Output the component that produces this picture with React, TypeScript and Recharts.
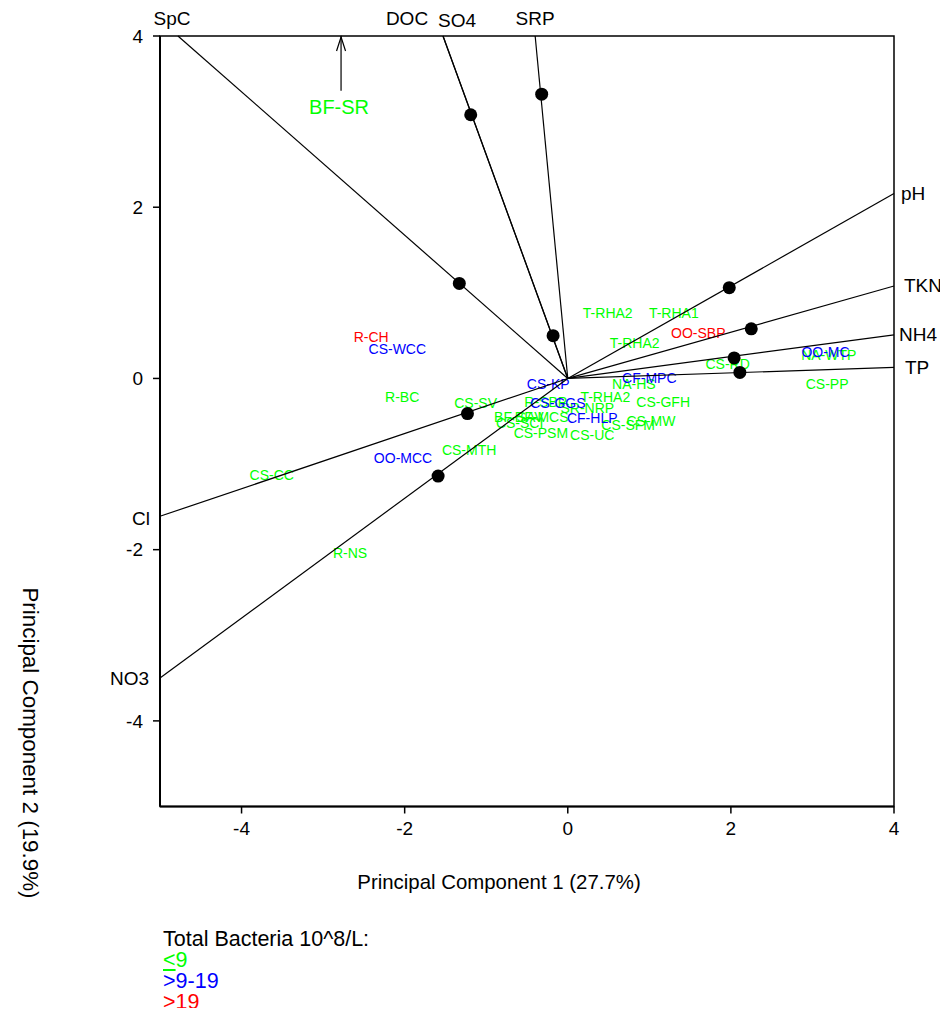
import React from 'react';
import { ComposedChart, Scatter, XAxis, YAxis, ReferenceArea, ReferenceDot } from 'recharts';

// ---- Data ----
const vectorNames = ['SpC', 'DOC', 'SO4', 'SRP', 'pH', 'TKN', 'NH4', 'TP', 'Cl', 'NO3'];
const vectorEndX = [-4.78, -1.53, -1.53, -0.4, 4, 4, 4, 4, -5, -5];
const vectorEndY = [4, 4, 4, 4, 2.16, 1.08, 0.51, 0.13, -1.61, -3.5];
const loadingX = [-1.33, -1.19, -0.18, -0.32, 1.98, 2.25, 2.04, 2.11, -1.23, -1.59];
const loadingY = [1.11, 3.08, 0.5, 3.32, 1.06, 0.58, 0.24, 0.07, -0.41, -1.14];

const siteNames = [
  'R-CH', 'CS-WCC', 'R-BC', 'CS-CC', 'OO-MCC', 'R-NS', 'CS-SV', 'CS-MTH', 'CS-KP', 'R-SBP',
  'CS-GGS', 'T-RHA2', 'SR-NRP', 'CF-HLP', 'CS-GFH', 'CS-MW', 'CS-SFM', 'CS-UC', 'CS-PSM', 'CS-SCI',
  'BF-SAV', 'BF-MCS', 'NA-HS', 'CF-MPC', 'T-RHA2', 'T-RHA1', 'T-RHA2', 'OO-SBP', 'CS-RD', 'NA-WTP',
  'OO-MC', 'CS-PP',
];
const siteX = [
  -2.41, -2.09, -2.03, -3.63, -2.02, -2.67, -1.13, -1.21, -0.24, -0.27,
  -0.12, 0.46, 0.24, 0.3, 1.17, 1.02, 0.74, 0.3, -0.33, -0.59,
  -0.6, -0.32, 0.81, 1.0, 0.49, 1.3, 0.82, 1.6, 1.96, 3.2,
  3.16, 3.18,
];
const siteY = [
  0.48, 0.34, -0.22, -1.13, -0.93, -2.04, -0.29, -0.84, -0.06, -0.28,
  -0.29, -0.22, -0.34, -0.46, -0.28, -0.5, -0.54, -0.66, -0.64, -0.52,
  -0.45, -0.45, -0.06, 0.0, 0.76, 0.76, 0.41, 0.53, 0.17, 0.27,
  0.31, -0.07,
];
// 0: <=9, 1: >9-19, 2: >19
const siteGroup = [
  2, 1, 0, 0, 1, 0, 0, 0, 1, 0,
  1, 0, 0, 1, 0, 0, 0, 0, 0, 0,
  0, 0, 0, 1, 0, 0, 0, 2, 0, 0,
  1, 0,
];

// Site beyond the top of the plot, shown with an arrow
const offscaleSiteName = 'BF-SR';
const offscaleSiteGroup = 0;
const offscaleArrowX = -2.78;
const offscaleArrowBaseY = 3.36;

const legendTitle = 'Total Bacteria 10^8/L:';
const groupLabels = ['9', '>9-19', '>19'];
const xTicks = [-4, -2, 0, 2, 4];
const yTicks = [-4, -2, 0, 2, 4];
const xTitle = 'Principal Component 1 (27.7%)';
const yTitle = 'Principal Component 2 (19.9%)';

// ---- Styles / layout ----
const FONT = '"Liberation Sans", Arial, Helvetica, sans-serif';
const groupColors = ['#00ff00', '#0000ff', '#ff0000'];
const vectorLabelLayout: Record<string, { dx: number; dy: number; anchor: 'start' | 'middle' | 'end' }> = {
  SpC: { dx: -6, dy: -18, anchor: 'middle' },
  DOC: { dx: -36, dy: -18, anchor: 'middle' },
  SO4: { dx: 14, dy: -16, anchor: 'middle' },
  SRP: { dx: 0, dy: -18, anchor: 'middle' },
  pH: { dx: 7, dy: 0, anchor: 'start' },
  TKN: { dx: 10, dy: 0, anchor: 'start' },
  NH4: { dx: 5, dy: 0, anchor: 'start' },
  TP: { dx: 11, dy: 0, anchor: 'start' },
  Cl: { dx: -10, dy: 2, anchor: 'end' },
  NO3: { dx: -11, dy: 0, anchor: 'end' },
};

const sites = siteNames.map((name, i) => ({ name, x: siteX[i], y: siteY[i], g: siteGroup[i] }));
const vectors = vectorNames.map((name, i) => ({
  name,
  line: [{ x: 0, y: 0 }, { x: vectorEndX[i], y: vectorEndY[i] }],
}));
const loadings = loadingX.map((x, i) => ({ x, y: loadingY[i] }));
const arrowData = [{ x: offscaleArrowX, y: offscaleArrowBaseY }, { x: offscaleArrowX, y: 4 }];

const Empty = () => <g />;

export default function App() {
  return (
    <div style={{ position: 'relative', width: 940, height: 1000, fontFamily: FONT }}>
      <ComposedChart
        width={940}
        height={1000}
        margin={{ top: 28, right: 54, bottom: 161.5, left: 92 }}
        style={{ fontFamily: FONT }}
      >
        <XAxis
          type="number"
          dataKey="x"
          domain={[-5, 4]}
          ticks={xTicks}
          height={40}
          tickSize={7}
          tickMargin={8}
          axisLine={{ stroke: '#000', strokeWidth: 2 }}
          tickLine={{ stroke: '#000', strokeWidth: 1.5 }}
          tick={{ fill: '#000', fontSize: 19, fontFamily: FONT }}
        />
        <YAxis
          type="number"
          dataKey="y"
          domain={[-5, 4]}
          ticks={yTicks}
          width={60}
          tickSize={7}
          tickMargin={10}
          axisLine={{ stroke: '#000', strokeWidth: 2 }}
          tickLine={{ stroke: '#000', strokeWidth: 1.5 }}
          tick={{ fill: '#000', fontSize: 19, fontFamily: FONT }}
        />
        <ReferenceArea x1={-5} x2={4} y1={-5} y2={4} stroke="#000" strokeWidth={1.5} fill="none" fillOpacity={0} />

        {[0, 1, 2].map((g) => (
          <Scatter
            key={'sites' + g}
            data={sites.filter((s) => s.g === g)}
            isAnimationActive={false}
            shape={(p: any) => (
              <text
                x={p.cx}
                y={p.cy}
                fill={groupColors[g]}
                fontSize={14}
                fontFamily={FONT}
                textAnchor="middle"
                dominantBaseline="central"
              >
                {p.payload.name}
              </text>
            )}
          />
        ))}

        {vectors.map((v) => (
          <Scatter
            key={'vec' + v.name}
            data={v.line}
            isAnimationActive={false}
            line={{ stroke: '#000', strokeWidth: 1.2 }}
            shape={Empty}
          />
        ))}

        <Scatter
          data={arrowData}
          isAnimationActive={false}
          line={{ stroke: '#000', strokeWidth: 1.2 }}
          shape={Empty}
        />
        <ReferenceDot
          x={offscaleArrowX}
          y={4}
          ifOverflow="visible"
          shape={(p: any) => (
            <path
              d={`M${p.cx - 4.5},${p.cy + 15} L${p.cx},${p.cy + 1} L${p.cx + 4.5},${p.cy + 15}`}
              stroke="#000"
              strokeWidth={1.2}
              fill="none"
            />
          )}
        />
        <ReferenceDot
          x={offscaleArrowX}
          y={offscaleArrowBaseY}
          ifOverflow="visible"
          shape={(p: any) => (
            <text
              x={p.cx - 2}
              y={p.cy + 16}
              fill={groupColors[offscaleSiteGroup]}
              fontSize={20}
              fontFamily={FONT}
              textAnchor="middle"
              dominantBaseline="central"
            >
              {offscaleSiteName}
            </text>
          )}
        />

        <Scatter
          data={loadings}
          isAnimationActive={false}
          shape={(p: any) => <circle cx={p.cx} cy={p.cy} r={6.5} fill="#000" />}
        />

        {vectors.map((v, i) => {
          const lay = vectorLabelLayout[v.name];
          return (
            <ReferenceDot
              key={'lab' + v.name + i}
              x={vectorEndX[i]}
              y={vectorEndY[i]}
              ifOverflow="visible"
              shape={(p: any) => (
                <text
                  x={p.cx + lay.dx}
                  y={p.cy + lay.dy}
                  fill="#000"
                  fontSize={19}
                  fontFamily={FONT}
                  textAnchor={lay.anchor}
                  dominantBaseline="central"
                >
                  {v.name}
                </text>
              )}
            />
          );
        })}
      </ComposedChart>

      <div
        style={{
          position: 'absolute',
          left: 491,
          top: 874,
          transform: 'translate(-50%, -50%)',
          whiteSpace: 'nowrap',
          fontSize: 20.4,
          color: '#000',
        }}
      >
        {xTitle}
      </div>
      <div
        style={{
          position: 'absolute',
          left: 22,
          top: 735,
          transform: 'translate(-50%, -50%) rotate(90deg)',
          whiteSpace: 'nowrap',
          fontSize: 22.4,
          color: '#000',
        }}
      >
        {yTitle}
      </div>
      <div
        style={{
          position: 'absolute',
          left: 155,
          top: 921,
          fontSize: 21.5,
          lineHeight: '21px',
          whiteSpace: 'nowrap',
        }}
      >
        <div style={{ color: '#000' }}>{legendTitle}</div>
        <div style={{ color: groupColors[0] }}>
          <span style={{ textDecoration: 'underline' }}>&lt;</span>
          {groupLabels[0]}
        </div>
        <div style={{ color: groupColors[1] }}>{groupLabels[1]}</div>
        <div style={{ color: groupColors[2] }}>{groupLabels[2]}</div>
      </div>
    </div>
  );
}
